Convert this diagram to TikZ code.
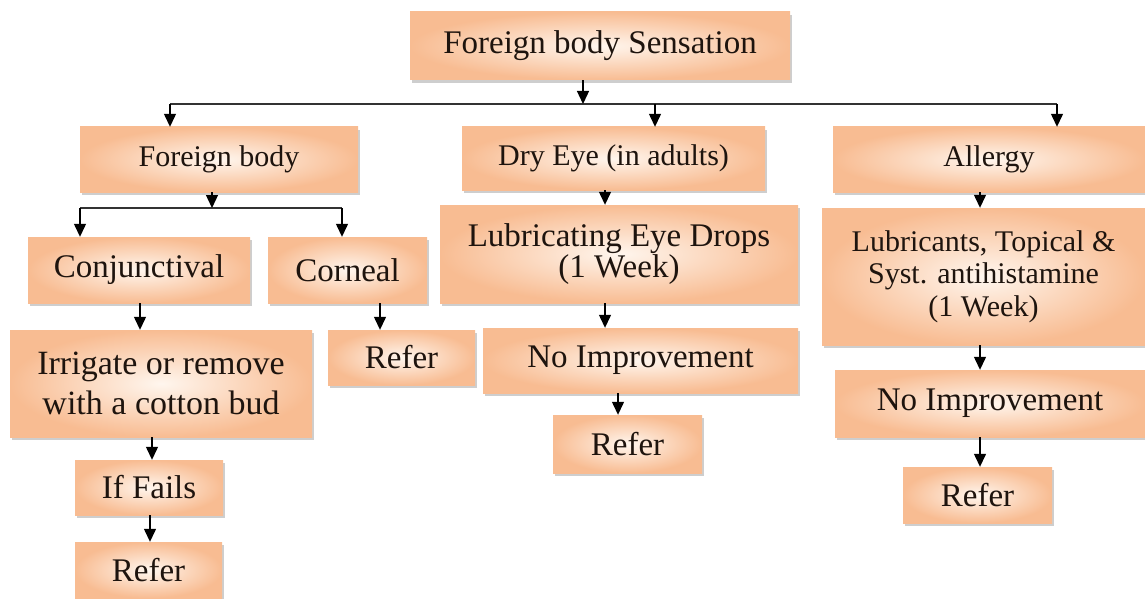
\documentclass[tikz,border=0pt]{standalone}
\usepackage{fontspec}
\setmainfont{Liberation Serif}
\usetikzlibrary{arrows.meta,shadows}
\definecolor{boxout}{RGB}{248,188,146}
\definecolor{boxin}{RGB}{255,246,238}
\definecolor{txt}{RGB}{30,20,14}
\begin{document}
\begin{tikzpicture}[x=1pt,y=-1pt,
  box/.style={rectangle, inner sep=0pt, align=center, text=txt,
    inner color=boxin, outer color=boxout,
    drop shadow={shadow xshift=2pt, shadow yshift=-3pt, fill=black!55, opacity=0.35}},
  fa/.style={font=\fontsize{33}{36}\selectfont},
  fb/.style={font=\fontsize{30}{33}\selectfont},
  arr/.style={-{Triangle[width=12pt,length=13pt]}, line width=1.3pt, black},
  bus/.style={line width=1.3pt, black!80}]
\useasboundingbox (0,0) rectangle (1145,599);

% level 0
\node[box, fa, minimum width=380pt, minimum height=68pt] (top) at (600,46) {Foreign body Sensation};
% level 1
\node[box, fb, minimum width=278pt, minimum height=65pt] (fb) at (219,159.5) {Foreign body};
\node[box, fb, minimum width=303pt, minimum height=63pt] (dry) at (613.5,158.5) {Dry Eye (in adults)};
\node[box, fb, minimum width=312pt, minimum height=65pt] (alg) at (989,159.5) {Allergy};
% foreign body branch
\node[box, fa, minimum width=222pt, minimum height=66pt] (conj) at (139,270) {Conjunctival};
\node[box, fa, minimum width=159pt, minimum height=66pt] (corn) at (347.5,270) {Corneal};
\node[box, font=\fontsize{34}{40}\selectfont, minimum width=302pt, minimum height=107pt] (irr) at (161,383.5) {Irrigate or remove\\with a cotton bud};
\node[box, fa, minimum width=147pt, minimum height=55pt] (refc) at (401.5,357.5) {Refer};
\node[box, fa, minimum width=148pt, minimum height=55pt] (fail) at (149,487.5) {If Fails};
\node[box, fa, minimum width=147pt, minimum height=56pt] (refl) at (148.5,570) {Refer};
% dry eye branch
\node[box, font=\fontsize{33}{31}\selectfont, minimum width=358pt, minimum height=98pt] (lub) at (619,254) {Lubricating Eye Drops\\(1 Week)};
\node[box, fa, minimum width=315pt, minimum height=65pt] (nim) at (640.5,360.5) {No Improvement};
\node[box, fa, minimum width=149pt, minimum height=58pt] (refm) at (627.5,444) {Refer};
% allergy branch
\node[box, font=\fontsize{30}{32.5}\selectfont, minimum width=323pt, minimum height=137pt] (lubr) at (983.5,276.5) {Lubricants, Topical \&\\Syst. antihistamine\\(1 Week)};
\node[box, fa, minimum width=310pt, minimum height=67pt] (nir) at (990,403.5) {No Improvement};
\node[box, fa, minimum width=149pt, minimum height=56pt] (refr) at (977.5,495) {Refer};

% coordinates for bus lines and columns
\coordinate (b0) at (583,104);
\coordinate (bl) at (170,104);
\coordinate (bm) at (655,104);
\coordinate (br) at (1057,104);
\coordinate (s0) at (212,208);
\coordinate (sl) at (80,208);
\coordinate (sr) at (342,208);
\coordinate (c140) at (140,0);
\coordinate (c380) at (380,0);
\coordinate (c152) at (152,0);
\coordinate (c150) at (150,0);
\coordinate (c605) at (605,0);
\coordinate (c618) at (618,0);
\coordinate (c980) at (980,0);

% main bus
\draw[bus] (bl) -- (br);
\draw[arr] (top.south -| b0) -- (b0);
\draw[arr] (bl) -- (fb.north -| bl);
\draw[arr] (bm) -- (dry.north -| bm);
\draw[arr] (br) -- (alg.north -| br);
% foreign body sub-bus
\draw[bus] (sl) -- (sr);
\draw[arr] (fb.south -| s0) -- (s0);
\draw[arr] (sl) -- (conj.north -| sl);
\draw[arr] (sr) -- (corn.north -| sr);
\draw[arr] (conj.south -| c140) -- (irr.north -| c140);
\draw[arr] (corn.south -| c380) -- (refc.north -| c380);
\draw[arr] (irr.south -| c152) -- (fail.north -| c152);
\draw[arr] (fail.south -| c150) -- (refl.north -| c150);
% dry eye
\draw[arr] (dry.south -| c605) -- (lub.north -| c605);
\draw[arr] (lub.south -| c605) -- (nim.north -| c605);
\draw[arr] (nim.south -| c618) -- (refm.north -| c618);
% allergy
\draw[arr] (alg.south -| c980) -- (lubr.north -| c980);
\draw[arr] (lubr.south -| c980) -- (nir.north -| c980);
\draw[arr] (nir.south -| c980) -- (refr.north -| c980);
\end{tikzpicture}
\end{document}
